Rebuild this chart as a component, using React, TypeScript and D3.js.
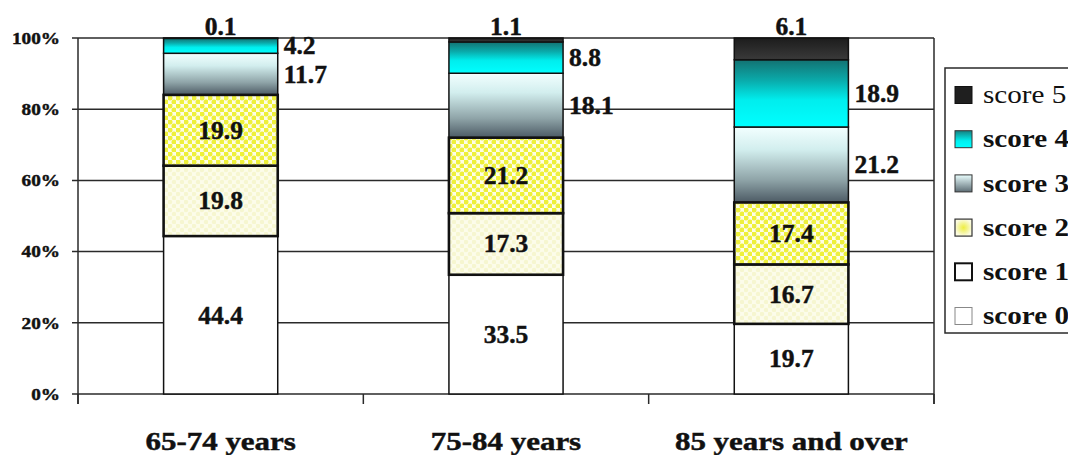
import React from "react";
import * as d3 from "d3";

// Age groups on the x axis
const categories = ["65-74 years", "75-84 years", "85 years and over"];

// Percentage of people in each score group, per age group
const score0 = [44.4, 33.5, 19.7];
const score1 = [19.8, 17.3, 16.7];
const score2 = [19.9, 21.2, 17.4];
const score3 = [11.7, 18.1, 21.2];
const score4 = [4.2, 8.8, 18.9];
const score5 = [0.1, 1.1, 6.1];

const seriesKeys = ["score 0", "score 1", "score 2", "score 3", "score 4", "score 5"];
const seriesValues = [score0, score1, score2, score3, score4, score5];

// Percent axis ticks
const yTicks = [0, 0.2, 0.4, 0.6, 0.8, 1];

const W = 1068;
const H = 455;
const plot = { left: 78, right: 934, top: 38, bottom: 394 };
const SERIF = "'Liberation Serif', 'Times New Roman', serif";

// Visual style for each score segment
const segStyle: Record<string, { fill: string; stroke: number }> = {
  "score 0": { fill: "#ffffff", stroke: 1.5 },
  "score 1": { fill: "url(#dotsFaint)", stroke: 2.6 },
  "score 2": { fill: "url(#dotsYellow)", stroke: 2.6 },
  "score 3": { fill: "url(#gradSlate)", stroke: 1.5 },
  "score 4": { fill: "url(#gradCyan)", stroke: 1.5 },
  "score 5": { fill: "url(#gradDark)", stroke: 1.5 },
};

const legendSwatch: Record<string, { fill: string; stroke: string; sw: number }> = {
  "score 5": { fill: "#1f1f1f", stroke: "#111", sw: 1 },
  "score 4": { fill: "url(#gradCyanL)", stroke: "#333", sw: 1 },
  "score 3": { fill: "url(#gradSlateL)", stroke: "#333", sw: 1 },
  "score 2": { fill: "url(#legendYellow)", stroke: "#333", sw: 1.2 },
  "score 1": { fill: "#ffffff", stroke: "#111", sw: 2 },
  "score 0": { fill: "#ffffff", stroke: "#888", sw: 1 },
};

// heavier bold lettering
const heavy = { stroke: "#111", strokeWidth: 0.45 };

export default function App() {
  const rows = categories.map((c, i) => {
    const r: Record<string, number | string> = { category: c };
    seriesKeys.forEach((k, j) => (r[k] = seriesValues[j][i]));
    return r;
  });

  const stack = d3
    .stack<Record<string, number | string>>()
    .keys(seriesKeys)
    .value((d, k) => d[k] as number)
    .offset(d3.stackOffsetExpand);
  const layers = stack(rows);

  const x = d3
    .scaleBand<string>()
    .domain(categories)
    .range([plot.left, plot.right])
    .paddingInner(0.6)
    .paddingOuter(0.3);
  const y = d3.scaleLinear().domain([0, 1]).range([plot.bottom, plot.top]);
  const pct = d3.format(".0%");
  const step = x.step();
  const boundaries = d3.range(categories.length + 1).map((i) => plot.left + i * step);

  // draw thin-bordered segments first so thick borders sit on top
  const drawOrder = [0, 3, 4, 5, 1, 2];

  const legendOrder = [...seriesKeys].reverse();
  const legendTop = 95;
  const legendGap = 44.2;

  return (
    <svg
      width={W}
      height={H}
      style={{ position: "absolute", left: 0, top: 0, display: "block", background: "#fff" }}
    >
      <defs>
        <linearGradient id="gradCyan" x1="0" y1="0" x2="0" y2="1">
          <stop offset="0" stopColor="#137272" />
          <stop offset="0.3" stopColor="#0aa9a9" />
          <stop offset="0.6" stopColor="#00eeee" />
          <stop offset="1" stopColor="#00ffff" />
        </linearGradient>
        <linearGradient id="gradSlate" x1="0" y1="0" x2="0" y2="1">
          <stop offset="0" stopColor="#f2ffff" />
          <stop offset="0.3" stopColor="#d2eeee" />
          <stop offset="0.7" stopColor="#8fa4a8" />
          <stop offset="1" stopColor="#4c5a64" />
        </linearGradient>
        <linearGradient id="gradDark" x1="0" y1="0" x2="0" y2="1">
          <stop offset="0" stopColor="#1c1c1c" />
          <stop offset="1" stopColor="#3a3a3a" />
        </linearGradient>
        <linearGradient id="gradCyanL" x1="0" y1="0" x2="0" y2="1">
          <stop offset="0" stopColor="#158080" />
          <stop offset="0.6" stopColor="#00f0f0" />
          <stop offset="1" stopColor="#00ffff" />
        </linearGradient>
        <linearGradient id="gradSlateL" x1="0" y1="0" x2="0" y2="1">
          <stop offset="0" stopColor="#eaffff" />
          <stop offset="1" stopColor="#5d6d75" />
        </linearGradient>
        <radialGradient id="legendYellow">
          <stop offset="0" stopColor="#eeee40" />
          <stop offset="0.5" stopColor="#f4f490" />
          <stop offset="1" stopColor="#fbfbe0" />
        </radialGradient>
        <pattern id="dotsYellow" width="8" height="8" patternUnits="userSpaceOnUse">
          <rect width="8" height="8" fill="#fdfde6" />
          <circle cx="2" cy="2" r="2.5" fill="#eef03a" />
          <circle cx="6" cy="6" r="2.5" fill="#eef03a" />
        </pattern>
        <pattern id="dotsFaint" width="8" height="8" patternUnits="userSpaceOnUse">
          <rect width="8" height="8" fill="#fcfcea" />
          <circle cx="2" cy="2" r="2.2" fill="#f6f6d0" />
          <circle cx="6" cy="6" r="2.2" fill="#f6f6d0" />
        </pattern>
      </defs>

      {/* horizontal gridlines with left tick marks */}
      {yTicks.map((t) => (
        <line
          key={"g" + t}
          x1={plot.left - 6}
          x2={plot.right}
          y1={y(t)}
          y2={y(t)}
          stroke="#2a2a2a"
          strokeWidth={1.5}
        />
      ))}
      {/* y axis and right border */}
      <line x1={plot.left} x2={plot.left} y1={plot.top} y2={plot.bottom + 10} stroke="#2a2a2a" strokeWidth={1.5} />
      <line x1={plot.right} x2={plot.right} y1={plot.top} y2={plot.bottom + 10} stroke="#2a2a2a" strokeWidth={1.5} />
      {/* category boundary ticks */}
      {boundaries.map((b, i) => (
        <line key={"xt" + i} x1={b} x2={b} y1={plot.bottom} y2={plot.bottom + 10} stroke="#2a2a2a" strokeWidth={1.5} />
      ))}

      {/* y tick labels */}
      {yTicks.map((t) => (
        <text
          key={"yl" + t}
          transform={`translate(60, ${y(t)}) scale(1.1, 1)`}
          textAnchor="end"
          dominantBaseline="central"
          fontFamily={SERIF}
          fontWeight="bold"
          fontSize={17.5}
          fill="#111"
          {...heavy}
        >
          {pct(t)}
        </text>
      ))}

      {/* stacked segments */}
      {drawOrder.map((li) => {
        const layer = layers[li];
        const st = segStyle[layer.key];
        return layer.map((seg, i) => {
          const cat = categories[i];
          const x0 = x(cat)!;
          const y0 = y(seg[1]);
          const y1 = y(seg[0]);
          return (
            <rect
              key={layer.key + cat}
              x={x0}
              y={y0}
              width={x.bandwidth()}
              height={Math.max(0.01, y1 - y0)}
              fill={st.fill}
              stroke="#111"
              strokeWidth={st.stroke}
            />
          );
        });
      })}

      {/* value labels */}
      {layers.map((layer, li) =>
        layer.map((seg, i) => {
          const cat = categories[i];
          const value = seriesValues[li][i];
          const x0 = x(cat)!;
          const cx = x0 + x.bandwidth() / 2;
          const cy = (y(seg[0]) + y(seg[1])) / 2;
          let tx = cx;
          let ty = cy;
          let anchor: "middle" | "start" = "middle";
          let baseline: "central" | "auto" = "central";
          if (li === 3 || li === 4) {
            tx = x0 + x.bandwidth() + 6;
            anchor = "start";
          } else if (li === 5) {
            ty = y(seg[1]) - 3;
            baseline = "auto";
          }
          return (
            <text
              key={"v" + layer.key + cat}
              x={tx}
              y={ty}
              textAnchor={anchor}
              dominantBaseline={baseline}
              fontFamily={SERIF}
              fontWeight="bold"
              fontSize={25.5}
              fill="#111"
              {...heavy}
            >
              {value.toFixed(1)}
            </text>
          );
        })
      )}

      {/* category labels */}
      {categories.map((c) => (
        <text
          key={"c" + c}
          transform={`translate(${x(c)! + x.bandwidth() / 2}, 450) scale(1.19, 1)`}
          textAnchor="middle"
          fontFamily={SERIF}
          fontWeight="bold"
          fontSize={26}
          fill="#111"
          {...heavy}
        >
          {c}
        </text>
      ))}

      {/* legend */}
      <rect x={945} y={68} width={140} height={265} fill="#fff" stroke="#2a2a2a" strokeWidth={1.5} />
      {legendOrder.map((k, i) => {
        const cy = legendTop + i * legendGap;
        const sw = legendSwatch[k];
        return (
          <g key={"lg" + k}>
            <rect x={955} y={cy - 8.5} width={17} height={17} fill={sw.fill} stroke={sw.stroke} strokeWidth={sw.sw} />
            <text
              transform={`translate(983, ${cy}) scale(1.19, 1)`}
              dominantBaseline="central"
              fontFamily={SERIF}
              fontWeight={k === "score 5" ? "normal" : "bold"}
              fontSize={24.5}
              fill="#111"
            >
              {k}
            </text>
          </g>
        );
      })}
    </svg>
  );
}
